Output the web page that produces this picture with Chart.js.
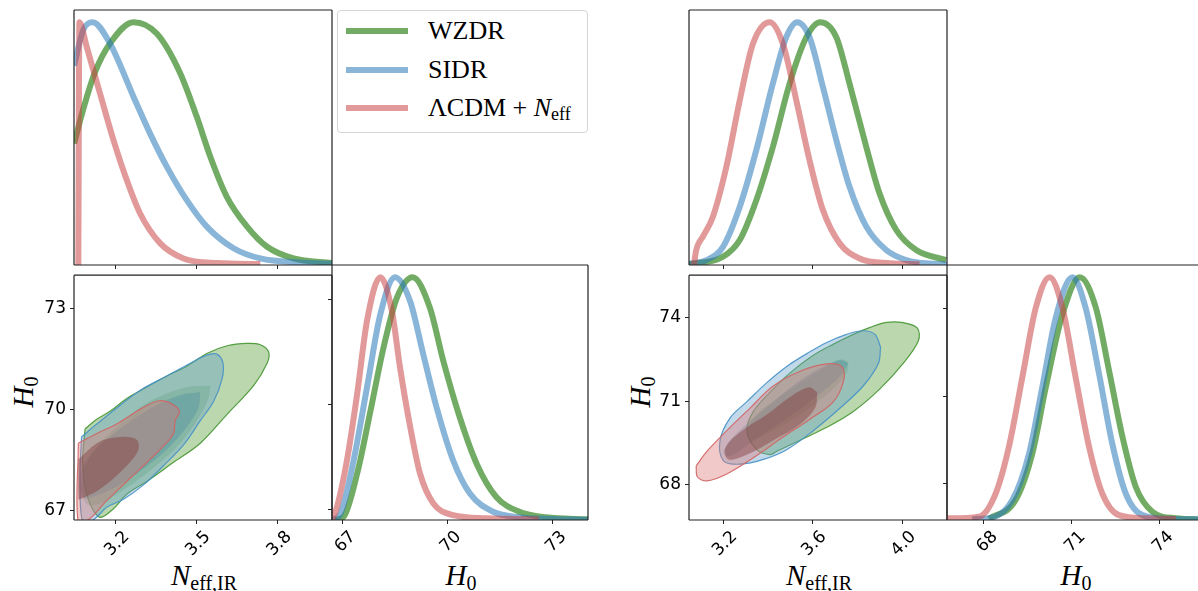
<!DOCTYPE html>
<html>
<head>
<meta charset="utf-8">
<script src="https://cdn.jsdelivr.net/npm/chart.js@4.4.1/dist/chart.umd.min.js"></script>
<style>
  body { margin: 0; background: #fff; }
  #fig { position: relative; width: 1198px; height: 591px; overflow: hidden; background: #fff; }
  #fig canvas { position: absolute; }
  .lab { position: absolute; font-family: "Liberation Serif", serif; font-size: 29px; color: #000;
         white-space: nowrap; transform: translate(-50%, -50%); line-height: 1; }
  .lab i { font-style: italic; }
  .lab sub { font-size: 20px; vertical-align: -5px; line-height: 0; }
  .rot { transform: translate(-50%, -50%) rotate(-90deg); }
  .legend { position: absolute; left: 337px; top: 10px; width: 251px; height: 123px; box-sizing: border-box;
            border: 1px solid #d6d6d6; border-radius: 4px; background: #fff;
            font-family: "Liberation Serif", serif; font-size: 26px; color: #000; }
  .legend .row { position: absolute; left: 8px; height: 30px; display: flex; align-items: center; white-space: pre; }
  .legend .sw { display: inline-block; width: 62px; height: 6px; margin-right: 20px; }
  .legend sub { font-size: 18px; vertical-align: -4px; line-height: 0; }
</style>
</head>
<body>
<div id="fig">
  <div class="legend">
    <div class="row" style="top:5px"><span class="sw" style="background:rgba(60,140,40,0.72)"></span><span>WZDR</span></div>
    <div class="row" style="top:44px"><span class="sw" style="background:rgba(40,120,185,0.55)"></span><span>SIDR</span></div>
    <div class="row" style="top:82px"><span class="sw" style="background:rgba(200,70,70,0.55)"></span><span>ΛCDM + <i>N</i><sub>eff</sub></span></div>
  </div>
  <div class="lab" style="left:204px;top:575px"><i>N</i><sub>eff,IR</sub></div>
  <div class="lab" style="left:461px;top:575px"><i>H</i><sub>0</sub></div>
  <div class="lab" style="left:819px;top:575px"><i>N</i><sub>eff,IR</sub></div>
  <div class="lab" style="left:1076px;top:575px"><i>H</i><sub>0</sub></div>
  <div class="lab rot" style="left:23px;top:392px"><i>H</i><sub>0</sub></div>
  <div class="lab rot" style="left:640px;top:392px"><i>H</i><sub>0</sub></div>
</div>
<script>
// ---------- data: left corner ----------
const neffTicksL = [3.2, 3.5, 3.8];
const neffTickLabelsL = ['3.2', '3.5', '3.8'];
const h0TicksL = [67, 70, 73];
const h0TickLabelsL = ['67', '70', '73'];
const neffRangeL = [3.046, 4.0];
const h0RangeL = [66.714, 74.0];

const neffL_wzdr_x = [3.046, 3.085, 3.124, 3.179, 3.266, 3.352, 3.439, 3.500, 3.550, 3.611, 3.686, 3.760, 3.858, 4.0];
const neffL_wzdr_p = [0.50, 0.66, 0.795, 0.912, 1.0, 0.953, 0.789, 0.61, 0.446, 0.281, 0.158, 0.075, 0.027, 0.008];
const neffL_sidr_x = [3.046, 3.080, 3.115, 3.179, 3.266, 3.327, 3.389, 3.463, 3.537, 3.636, 3.735, 3.884, 4.0];
const neffL_sidr_p = [0.82, 0.967, 1.0, 0.912, 0.693, 0.542, 0.405, 0.267, 0.158, 0.069, 0.027, 0.01, 0.005];
const neffL_lcdm_x = [3.062, 3.066, 3.093, 3.142, 3.192, 3.241, 3.290, 3.365, 3.451, 3.575, 3.735];
const neffL_lcdm_p = [0.0, 1.0, 0.898, 0.707, 0.514, 0.35, 0.213, 0.089, 0.027, 0.008, 0.004];

const h0L_wzdr_x = [66.80, 67.05, 67.43, 67.81, 68.18, 68.56, 69.01, 69.50, 69.88, 70.35, 70.83, 71.39, 72.05, 72.81, 74.0];
const h0L_wzdr_p = [0.0, 0.014, 0.191, 0.45, 0.71, 0.915, 1.0, 0.874, 0.656, 0.423, 0.232, 0.095, 0.034, 0.011, 0.003];
const h0L_sidr_x = [66.72, 66.96, 67.33, 67.71, 68.09, 68.51, 68.94, 69.31, 69.69, 70.16, 70.64, 71.30, 72.05, 73.0, 74.0];
const h0L_sidr_p = [0.0, 0.027, 0.246, 0.546, 0.847, 1.0, 0.90, 0.683, 0.464, 0.246, 0.109, 0.034, 0.011, 0.004, 0.001];
const h0L_lcdm_x = [66.72, 66.86, 67.14, 67.43, 67.71, 68.09, 68.42, 68.65, 68.94, 69.22, 69.60, 70.16, 71.11, 72.6];
const h0L_lcdm_p = [0.0, 0.055, 0.246, 0.519, 0.82, 1.0, 0.86, 0.628, 0.383, 0.191, 0.068, 0.02, 0.007, 0.003];

// contours [Neff, H0]
const cL_wzdr95 = [[3.087,69.43],[3.130,69.71],[3.179,69.95],[3.241,70.33],[3.303,70.62],[3.389,71.0],[3.463,71.29],[3.537,71.67],[3.612,71.90],[3.686,71.97],[3.735,71.93],[3.766,71.71],[3.760,71.38],[3.710,70.71],[3.612,69.86],[3.513,69.0],[3.414,68.43],[3.315,67.86],[3.241,67.48],[3.192,67.05],[3.140,66.80],[3.093,67.48],[3.078,68.43],[3.080,68.81],[3.087,69.43]];
const cL_wzdr68 = [[3.550,70.71],[3.543,70.33],[3.500,69.67],[3.439,69.0],[3.365,68.43],[3.290,67.95],[3.204,67.48],[3.142,67.19],[3.093,67.19],[3.074,67.67],[3.093,68.43],[3.142,69.0],[3.216,69.57],[3.303,70.14],[3.389,70.48],[3.476,70.69],[3.550,70.71]];
const cL_sidr95 = [[3.074,69.19],[3.130,69.57],[3.204,70.05],[3.290,70.57],[3.389,71.0],[3.476,71.38],[3.537,71.62],[3.574,71.65],[3.597,71.38],[3.593,70.90],[3.562,70.24],[3.513,69.67],[3.451,68.95],[3.377,68.33],[3.303,67.76],[3.229,67.33],[3.167,67.09],[3.124,66.76],[3.080,66.60],[3.068,67.95],[3.074,69.19]];
const cL_sidr68 = [[3.513,70.52],[3.506,70.05],[3.463,69.48],[3.389,68.81],[3.303,68.24],[3.216,67.76],[3.142,67.48],[3.080,67.38],[3.068,68.05],[3.105,68.62],[3.179,69.19],[3.265,69.71],[3.352,70.14],[3.439,70.43],[3.513,70.52]];
const cL_lcdm95 = [[3.062,69.0],[3.130,69.29],[3.204,69.57],[3.278,69.95],[3.340,70.22],[3.377,70.26],[3.414,70.14],[3.436,69.95],[3.420,69.67],[3.414,69.29],[3.377,68.91],[3.327,68.52],[3.278,68.14],[3.216,67.67],[3.155,67.19],[3.105,66.76],[3.062,66.60],[3.062,69.0]];
const cL_lcdm68 = [[3.062,68.52],[3.142,69.05],[3.229,69.19],[3.278,69.10],[3.284,68.81],[3.253,68.43],[3.192,67.95],[3.130,67.57],[3.068,67.33],[3.062,67.33],[3.062,68.52]];

// ---------- data: right corner ----------
const neffTicksR = [3.2, 3.6, 4.0];
const neffTickLabelsR = ['3.2', '3.6', '4.0'];
const h0TicksR = [68, 71, 74];
const h0TickLabelsR = ['68', '71', '74'];
const neffRangeR = [3.046, 4.2];
const h0RangeR = [66.74, 75.51];

const neffR_wzdr_x = [3.046, 3.198, 3.273, 3.347, 3.421, 3.496, 3.571, 3.633, 3.705, 3.764, 3.839, 3.898, 3.973, 4.062, 4.196];
const neffR_wzdr_p = [0.003, 0.034, 0.103, 0.267, 0.486, 0.747, 0.938, 1.0, 0.938, 0.747, 0.486, 0.295, 0.144, 0.062, 0.02];
const neffR_sidr_x = [3.046, 3.124, 3.198, 3.273, 3.347, 3.421, 3.481, 3.530, 3.585, 3.645, 3.705, 3.764, 3.839, 3.928, 4.018, 4.09, 4.2];
const neffR_sidr_p = [0.005, 0.02, 0.075, 0.24, 0.473, 0.747, 0.938, 1.0, 0.938, 0.733, 0.514, 0.322, 0.158, 0.062, 0.02, 0.008, 0.003];
const neffR_lcdm_x = [3.068, 3.078, 3.110, 3.153, 3.213, 3.273, 3.332, 3.407, 3.466, 3.526, 3.585, 3.645, 3.720, 3.809, 3.943, 4.077];
const neffR_lcdm_p = [0.0, 0.06, 0.12, 0.199, 0.404, 0.678, 0.911, 1.0, 0.911, 0.678, 0.432, 0.226, 0.089, 0.027, 0.007, 0.003];

const h0R_wzdr_x = [68.17, 69.08, 69.65, 70.11, 70.68, 71.27, 71.82, 72.27, 72.73, 73.18, 73.75, 74.55, 75.5];
const h0R_wzdr_p = [0.005, 0.082, 0.273, 0.546, 0.847, 1.0, 0.874, 0.615, 0.341, 0.137, 0.034, 0.007, 0.002];
const h0R_sidr_x = [67.6, 68.17, 68.97, 69.54, 69.99, 70.45, 71.02, 71.47, 71.93, 72.38, 72.84, 73.41, 74.3, 75.5];
const h0R_sidr_p = [0.004, 0.007, 0.082, 0.273, 0.546, 0.833, 1.0, 0.874, 0.601, 0.314, 0.109, 0.02, 0.005, 0.002];
const h0R_lcdm_x = [66.74, 67.83, 68.40, 68.85, 69.31, 69.77, 70.24, 70.68, 71.13, 71.59, 72.04, 72.61, 73.52, 74.55];
const h0R_lcdm_p = [0.007, 0.014, 0.109, 0.30, 0.587, 0.874, 1.0, 0.874, 0.587, 0.30, 0.109, 0.02, 0.007, 0.004];

const cR_wzdr95 = [[3.439,69.20],[3.543,69.60],[3.662,70.06],[3.781,70.63],[3.900,71.44],[4.004,72.35],[4.072,73.16],[4.067,73.62],[4.004,73.81],[3.930,73.82],[3.856,73.64],[3.781,73.39],[3.692,73.04],[3.602,72.64],[3.498,72.01],[3.409,71.32],[3.334,70.63],[3.305,69.94],[3.349,69.26],[3.409,69.08],[3.439,69.20]];
const cR_wzdr68 = [[3.759,72.41],[3.751,72.01],[3.692,71.44],[3.602,70.86],[3.498,70.29],[3.394,69.83],[3.319,69.60],[3.305,69.94],[3.349,70.52],[3.439,71.09],[3.543,71.66],[3.647,72.18],[3.722,72.49],[3.759,72.41]];
const cR_sidr95 = [[3.903,72.93],[3.878,73.39],[3.826,73.52],[3.751,73.39],[3.662,73.10],[3.573,72.70],[3.483,72.24],[3.394,71.66],[3.305,70.98],[3.230,70.40],[3.185,69.60],[3.200,68.86],[3.275,68.74],[3.379,68.91],[3.483,69.26],[3.602,69.94],[3.722,70.75],[3.826,71.55],[3.893,72.35],[3.903,72.93]];
const cR_sidr68 = [[3.759,72.35],[3.722,71.89],[3.632,71.26],[3.528,70.63],[3.424,70.06],[3.319,69.49],[3.230,69.03],[3.200,69.14],[3.230,69.60],[3.319,70.29],[3.424,70.98],[3.528,71.66],[3.632,72.18],[3.722,72.47],[3.759,72.35]];
const cR_lcdm95 = [[3.078,68.68],[3.126,69.20],[3.215,69.94],[3.319,70.75],[3.424,71.55],[3.543,72.07],[3.662,72.33],[3.729,72.24],[3.739,71.78],[3.692,70.98],[3.587,70.35],[3.468,69.72],[3.334,68.97],[3.215,68.39],[3.126,68.14],[3.084,68.28],[3.078,68.68]];
const cR_lcdm68 = [[3.620,71.32],[3.610,70.75],[3.543,70.17],[3.424,69.60],[3.305,69.08],[3.222,68.91],[3.208,69.31],[3.275,69.89],[3.394,70.52],[3.498,71.15],[3.580,71.49],[3.620,71.32]];

// ---------- styles ----------
const lineColors = { wzdr: 'rgba(60,140,40,0.72)', sidr: 'rgba(40,120,185,0.55)', lcdm: 'rgba(200,70,70,0.55)' };
const edgeColors = { wzdr: 'rgba(70,150,50,0.9)', sidr: 'rgba(70,145,200,0.9)', lcdm: 'rgba(210,100,100,0.9)' };
const fill95 = { wzdr: 'rgba(90,160,60,0.42)', sidr: 'rgba(100,160,200,0.4)', lcdm: 'rgba(220,120,120,0.4)' };
const fill68 = { wzdr: 'rgba(50,130,40,0.22)', sidr: 'rgba(30,110,150,0.22)', lcdm: 'rgba(130,60,60,0.45)' };
const drawOrder = { wzdr: 3, sidr: 2, lcdm: 1 };

const fig = document.getElementById('fig');

const framePlugin = {
  id: 'frame',
  afterDatasetsDraw(chart, args, opts) {
    const a = chart.chartArea, ctx = chart.ctx, s = opts.sides || 'tlbr';
    ctx.save();
    ctx.strokeStyle = '#222';
    ctx.lineWidth = 1.2;
    ctx.beginPath();
    if (s.includes('t')) { ctx.moveTo(a.left, a.top); ctx.lineTo(a.right, a.top); }
    if (s.includes('b')) { ctx.moveTo(a.left, a.bottom); ctx.lineTo(a.right, a.bottom); }
    if (s.includes('l')) { ctx.moveTo(a.left, a.top); ctx.lineTo(a.left, a.bottom); }
    if (s.includes('r')) { ctx.moveTo(a.right, a.top); ctx.lineTo(a.right, a.bottom); }
    ctx.stroke();
    ctx.restore();
  }
};

const zip = (xs, ys) => xs.map((x, i) => ({ x: x, y: ys[i] }));
const pts = arr => arr.map(p => ({ x: p[0], y: p[1] }));

function curve(key, xs, ys) {
  return {
    data: zip(xs, ys), borderColor: lineColors[key], borderWidth: 6, pointRadius: 0,
    cubicInterpolationMode: 'monotone', fill: false, clip: 0, order: drawOrder[key]
  };
}

function contour(key, arr, inner) {
  return {
    data: pts(arr), borderColor: inner ? 'rgba(0,0,0,0)' : edgeColors[key], borderWidth: inner ? 0 : 1.2,
    backgroundColor: inner ? fill68[key] : fill95[key], fill: 'shape', pointRadius: 0,
    tension: 0.35, clip: 0, order: drawOrder[key] * 2 - (inner ? 1 : 0)
  };
}

const tickGrid = { display: true, drawOnChartArea: false, drawTicks: true, tickLength: 4, color: '#222', lineWidth: 1 };

function xAxis(range, ticks, labels, showLabels, size) {
  return {
    type: 'linear', position: 'bottom', min: range[0], max: range[1],
    afterBuildTicks: s => { s.ticks = ticks.map(v => ({ value: v })); },
    afterFit: s => { s.height = size; },
    border: { display: false }, grid: tickGrid,
    ticks: {
      display: showLabels, autoSkip: false, minRotation: 45, maxRotation: 45, padding: 3, labelOffset: 11,
      color: '#000', font: { family: 'DejaVu Sans', size: 17 },
      callback: (v, i) => labels[i]
    }
  };
}

function yAxis(range, ticks, labels, showLabels, size) {
  return {
    type: 'linear', position: 'left', min: range[0], max: range[1],
    afterBuildTicks: s => { s.ticks = ticks.map(v => ({ value: v })); },
    afterFit: s => { s.width = size; },
    border: { display: false }, grid: tickGrid,
    ticks: {
      display: showLabels, autoSkip: false, padding: 4,
      color: '#000', font: { family: 'DejaVu Sans', size: 17 },
      callback: (v, i) => labels[i]
    }
  };
}

const densityAxis = { type: 'linear', display: false, min: 0, max: 1.05 };

function panel(rect, m, datasets, scales, sides, hasX, hasY) {
  const c = document.createElement('canvas');
  const W = rect.w + m.l + m.r, H = rect.h + m.t + m.b;
  c.width = W; c.height = H;
  c.style.left = (rect.x - m.l) + 'px';
  c.style.top = (rect.y - m.t) + 'px';
  c.style.width = W + 'px';
  c.style.height = H + 'px';
  fig.appendChild(c);
  new Chart(c, {
    type: 'line',
    data: { datasets: datasets },
    options: {
      responsive: false, animation: false, devicePixelRatio: 1,
      layout: { padding: { left: hasY ? 0 : m.l, bottom: hasX ? 0 : m.b, top: m.t, right: m.r } },
      plugins: { legend: { display: false }, tooltip: { enabled: false }, frame: { sides: sides } },
      scales: scales
    },
    plugins: [framePlugin]
  });
}

const mTop = { l: 10, r: 10, t: 4, b: 10 };
const m2d = { l: 74, r: 4, t: 4, b: 70 };
const mH0 = { l: 30, r: 10, t: 4, b: 70 };

// left corner
panel({ x: 74, y: 10, w: 258, h: 255 }, mTop,
  [curve('wzdr', neffL_wzdr_x, neffL_wzdr_p), curve('sidr', neffL_sidr_x, neffL_sidr_p), curve('lcdm', neffL_lcdm_x, neffL_lcdm_p)],
  { x: xAxis(neffRangeL, neffTicksL, neffTickLabelsL, false, mTop.b), y: densityAxis }, 'tlbr', true, false);

panel({ x: 74, y: 265, w: 258, h: 255 }, m2d,
  [contour('wzdr', cL_wzdr95, false), contour('wzdr', cL_wzdr68, true),
   contour('sidr', cL_sidr95, false), contour('sidr', cL_sidr68, true),
   contour('lcdm', cL_lcdm95, false), contour('lcdm', cL_lcdm68, true)],
  { x: xAxis(neffRangeL, neffTicksL, neffTickLabelsL, true, m2d.b), y: yAxis(h0RangeL, h0TicksL, h0TickLabelsL, true, m2d.l) },
  'tlbr', true, true);

panel({ x: 332, y: 265, w: 256, h: 255 }, mH0,
  [curve('wzdr', h0L_wzdr_x, h0L_wzdr_p), curve('sidr', h0L_sidr_x, h0L_sidr_p), curve('lcdm', h0L_lcdm_x, h0L_lcdm_p)],
  { x: xAxis(h0RangeL, h0TicksL, h0TickLabelsL, true, mH0.b), y: densityAxis,
    y2: yAxis(h0RangeL, h0TicksL, h0TickLabelsL, false, mH0.l) },
  'tlbr', true, true);

// right corner
panel({ x: 689, y: 10, w: 258, h: 255 }, mTop,
  [curve('wzdr', neffR_wzdr_x, neffR_wzdr_p), curve('sidr', neffR_sidr_x, neffR_sidr_p), curve('lcdm', neffR_lcdm_x, neffR_lcdm_p)],
  { x: xAxis(neffRangeR, neffTicksR, neffTickLabelsR, false, mTop.b), y: densityAxis }, 'tlbr', true, false);

panel({ x: 689, y: 265, w: 258, h: 255 }, m2d,
  [contour('wzdr', cR_wzdr95, false), contour('wzdr', cR_wzdr68, true),
   contour('sidr', cR_sidr95, false), contour('sidr', cR_sidr68, true),
   contour('lcdm', cR_lcdm95, false), contour('lcdm', cR_lcdm68, true)],
  { x: xAxis(neffRangeR, neffTicksR, neffTickLabelsR, true, m2d.b), y: yAxis(h0RangeR, h0TicksR, h0TickLabelsR, true, m2d.l) },
  'tlbr', true, true);

panel({ x: 947, y: 265, w: 257, h: 255 }, mH0,
  [curve('wzdr', h0R_wzdr_x, h0R_wzdr_p), curve('sidr', h0R_sidr_x, h0R_sidr_p), curve('lcdm', h0R_lcdm_x, h0R_lcdm_p)],
  { x: xAxis(h0RangeR, h0TicksR, h0TickLabelsR, true, mH0.b), y: densityAxis,
    y2: yAxis(h0RangeR, h0TicksR, h0TickLabelsR, false, mH0.l) },
  'tlbl', true, true);
</script>
</body>
</html>
